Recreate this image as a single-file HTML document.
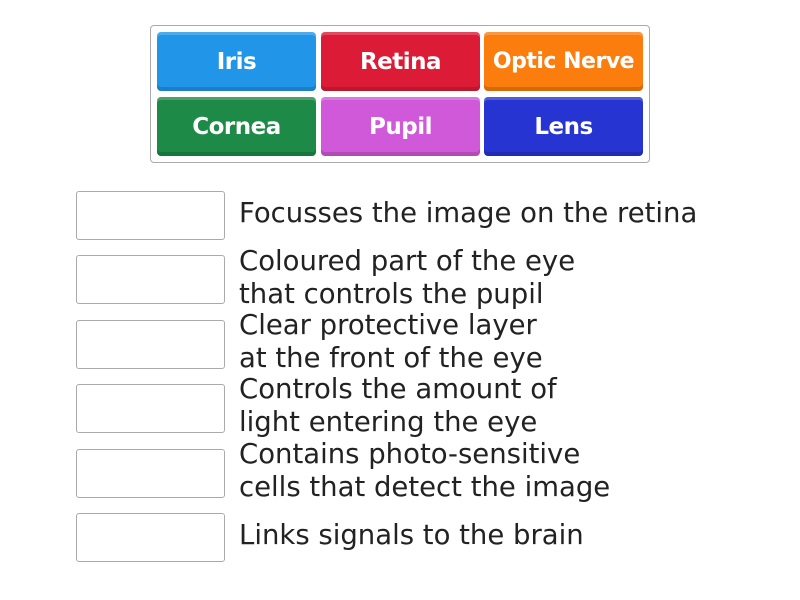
<!DOCTYPE html>
<html><head><style>
body{margin:0;width:800px;height:600px;background:#fff;font-family:"DejaVu Sans","Liberation Sans",sans-serif;position:relative;overflow:hidden}
.c{position:absolute;left:150px;top:25px;width:498px;height:136px;border:1px solid #aaa;border-radius:4px}
.b{position:absolute;width:159px;height:59px;border-radius:4px;color:#fff;font-weight:bold;font-size:23px;display:flex;align-items:center;justify-content:center;box-shadow:inset 0 -4px 0 rgba(0,0,0,.15),inset 0 3px 0 rgba(255,255,255,.2);letter-spacing:-0.5px}
.x{position:absolute;left:76px;width:147px;height:47px;border:1px solid #aaa;border-radius:3px}
.t{position:absolute;left:239px;font-size:27.5px;color:#222;line-height:33px;white-space:nowrap}
</style></head><body>
<div class="c"></div>
<div class="b" style="left:157px;top:32px;background:#2196e8">Iris</div>
<div class="b" style="left:321px;top:32px;background:#dc1c36">Retina</div>
<div class="b" style="left:484px;top:32px;background:#fb7d0e;font-size:22px">Optic Nerve</div>
<div class="b" style="left:157px;top:97px;background:#1d8a48">Cornea</div>
<div class="b" style="left:321px;top:97px;background:#cf59d9">Pupil</div>
<div class="b" style="left:484px;top:97px;background:#2634d2">Lens</div>
<div class="x" style="top:191px"></div>
<div class="x" style="top:255px"></div>
<div class="x" style="top:320px"></div>
<div class="x" style="top:384px"></div>
<div class="x" style="top:449px"></div>
<div class="x" style="top:513px"></div>
<div class="t" style="top:197px">Focusses the image on the retina</div>
<div class="t" style="top:245px">Coloured part of the eye<br>that controls the pupil</div>
<div class="t" style="top:309px">Clear protective layer<br>at the front of the eye</div>
<div class="t" style="top:373px">Controls the amount of<br>light entering the eye</div>
<div class="t" style="top:438px">Contains photo-sensitive<br>cells that detect the image</div>
<div class="t" style="top:519px">Links signals to the brain</div>
</body></html>
